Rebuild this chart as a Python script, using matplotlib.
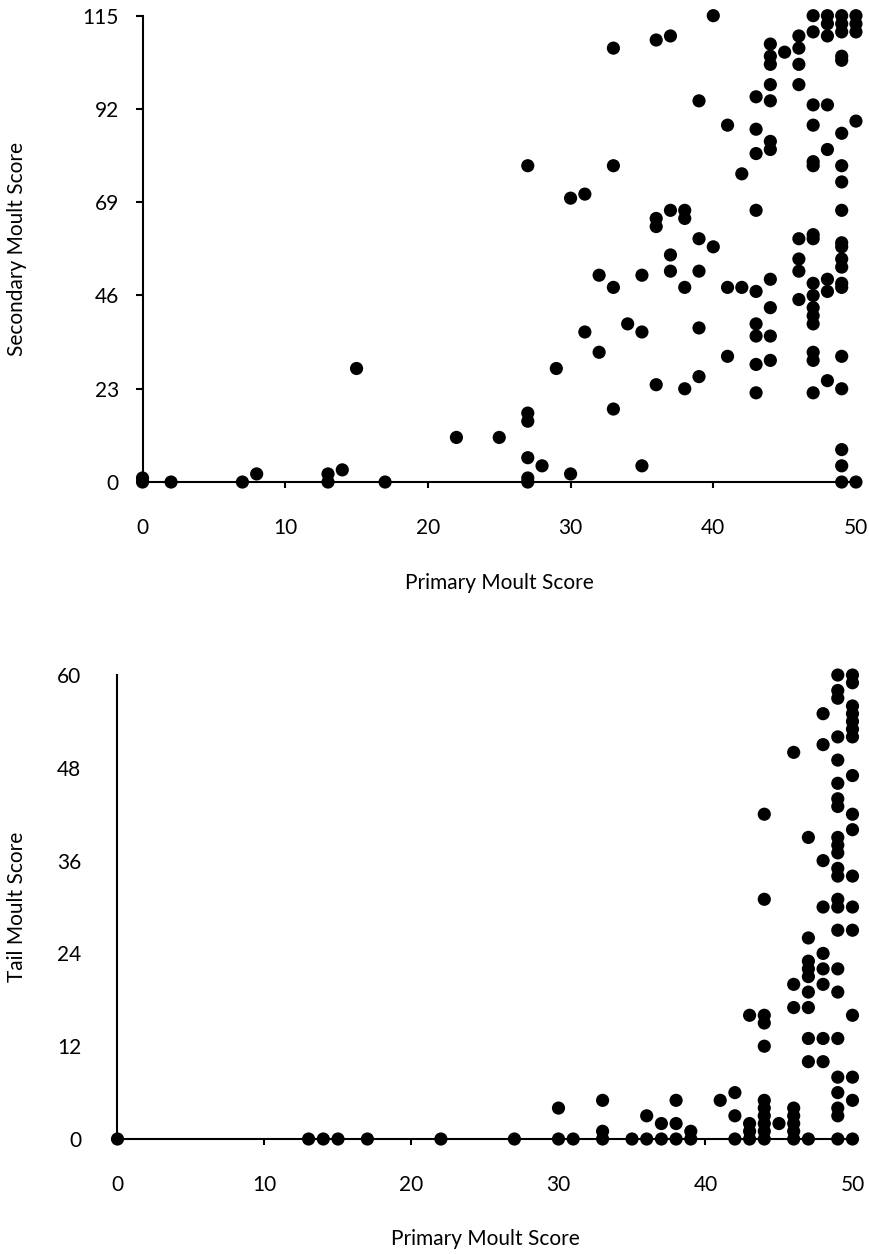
import numpy as np
import matplotlib.pyplot as plt

plt.rcParams['font.family'] = ['Lato', 'DejaVu Sans']

# Primary vs secondary moult score (top panel)
sec_primary = [0, 0, 2, 7, 8, 13, 13, 14, 15, 17, 22, 25,
               27, 27, 27, 27, 27, 27, 28, 29, 30, 30, 31, 31,
               32, 32, 33, 33, 33, 33, 34, 35, 35, 35,
               36, 36, 36, 36, 37, 37, 37, 37, 38, 38, 38, 38,
               39, 39, 39, 39, 39, 40, 40, 41, 41, 41, 42, 42,
               43, 43, 43, 43, 43, 43, 43, 43, 43,
               44, 44, 44, 44, 44, 44, 44, 44, 44, 44, 44, 45,
               46, 46, 46, 46, 46, 46, 46, 46,
               47, 47, 47, 47, 47, 47, 47, 47, 47, 47, 47, 47, 47, 47, 47, 47,
               48, 48, 48, 48, 48, 48, 48, 48,
               49, 49, 49, 49, 49, 49, 49, 49, 49, 49, 49, 49, 49, 49, 49, 49, 49, 49, 49, 49,
               50, 50, 50, 50, 50]
sec_score = [1, 0, 0, 0, 2, 0, 2, 3, 28, 0, 11, 11,
             78, 17, 15, 6, 1, 0, 4, 28, 70, 2, 71, 37,
             51, 32, 107, 78, 48, 18, 39, 51, 37, 4,
             109, 65, 63, 24, 110, 67, 56, 52, 67, 65, 48, 23,
             94, 60, 52, 38, 26, 115, 58, 88, 48, 31, 76, 48,
             95, 87, 81, 67, 47, 39, 36, 29, 22,
             108, 105, 103, 98, 94, 84, 82, 50, 43, 36, 30, 106,
             110, 107, 103, 98, 60, 55, 52, 45,
             115, 111, 93, 88, 79, 78, 61, 60, 49, 46, 43, 41, 39, 32, 30, 22,
             115, 113, 110, 93, 82, 50, 47, 25,
             115, 113, 111, 105, 104, 86, 78, 74, 67, 59, 58, 55, 53, 49, 48, 31, 23, 8, 4, 0,
             115, 113, 111, 89, 0]

# Primary vs tail moult score (bottom panel)
tail_primary = [0, 13, 14, 15, 17, 22, 27, 30, 30, 31, 33, 33, 33, 35, 36, 36,
                37, 37, 38, 38, 38, 39, 39, 41, 42, 42, 42, 43, 43, 43, 43,
                44, 44, 44, 44, 44, 44, 44, 44, 44, 44, 44, 45,
                46, 46, 46, 46, 46, 46, 46, 46,
                47, 47, 47, 47, 47, 47, 47, 47, 47, 47,
                48, 48, 48, 48, 48, 48, 48, 48, 48,
                49, 49, 49, 49, 49, 49, 49, 49, 49, 49, 49, 49, 49, 49, 49, 49,
                49, 49, 49, 49, 49, 49, 49, 49,
                50, 50, 50, 50, 50, 50, 50, 50, 50, 50, 50, 50, 50, 50, 50, 50, 50]
tail_score = [0, 0, 0, 0, 0, 0, 0, 4, 0, 0, 5, 1, 0, 0, 3, 0,
              2, 0, 5, 2, 0, 1, 0, 5, 6, 3, 0, 16, 2, 1, 0,
              42, 31, 16, 15, 12, 5, 4, 3, 2, 1, 0, 2,
              50, 20, 17, 4, 3, 2, 1, 0,
              39, 26, 23, 22, 21, 19, 17, 13, 10, 0,
              55, 51, 36, 30, 24, 22, 20, 13, 10,
              60, 58, 57, 52, 49, 46, 44, 43, 39, 38, 37, 35, 34, 31, 30, 27,
              22, 19, 13, 8, 6, 4, 3, 0,
              60, 59, 56, 55, 54, 53, 52, 47, 42, 40, 34, 30, 27, 16, 8, 5, 0]

sec_ticks = [0, 23, 46, 69, 92, 115]
tail_ticks = [0, 12, 24, 36, 48, 60]
x_ticks = [0, 10, 20, 30, 40, 50]

fig = plt.figure(figsize=(8.69, 12.54), dpi=100)
ax1 = fig.add_axes([0.164, 0.6156, 0.821, 0.3719])
ax2 = fig.add_axes([0.1352, 0.0917, 0.8458, 0.370])


def style(ax, xs, ys, yticks, ylabel, ytick_len, ypad, ylabel_x):
    ax.scatter(xs, ys, s=90, color='black', edgecolors='none', zorder=3,
               clip_on=False)
    ax.set_xlim(0, 50)
    ax.set_ylim(0, yticks[-1])
    ax.set_xticks(x_ticks)
    ax.set_yticks(yticks)
    for side in ['top', 'right']:
        ax.spines[side].set_visible(False)
    for side in ['left', 'bottom']:
        ax.spines[side].set_linewidth(1.5)
    ax.tick_params(axis='x', direction='out', length=4, width=1.5, pad=22,
                   labelsize=15)
    ax.tick_params(axis='y', direction='out', length=ytick_len, width=1.5,
                   pad=ypad, labelsize=15)
    ax.set_xlabel('Primary Moult Score', fontsize=15)
    ax.xaxis.set_label_coords(0.5, -0.195)
    ax.set_ylabel(ylabel, fontsize=15)
    ax.yaxis.set_label_coords(ylabel_x, 0.5)


style(ax1, sec_primary, sec_score, sec_ticks, 'Secondary Moult Score',
      5, 12, -0.162)
style(ax2, tail_primary, tail_score, tail_ticks, 'Tail Moult Score',
      0, 26, -0.123)

fig.savefig('out.png', dpi=100)
